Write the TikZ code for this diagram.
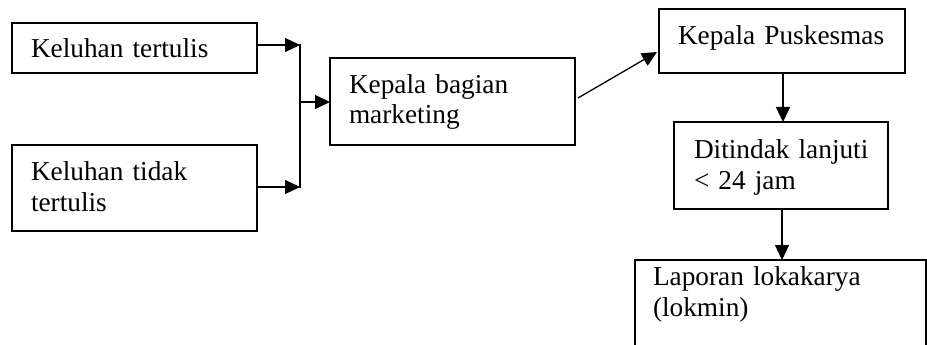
\documentclass[tikz,border=0pt]{standalone}
\usepackage{fontspec}
\setmainfont{Liberation Serif}
\usetikzlibrary{arrows.meta}

\tikzset{
  flowbox/.style={draw, line width=1.4pt, rectangle, anchor=north west,
    inner xsep=19pt, inner ysep=0pt, outer sep=0pt, align=left,
    font=\fontsize{27.3}{31}\selectfont},
  flowarrow/.style={line width=1.3pt, -{Triangle[length=15pt,width=14pt]}},
  flowline/.style={line width=1.3pt}
}

\begin{document}
\begin{tikzpicture}[x=1pt,y=-1pt]
  \useasboundingbox (0,0) rectangle (927,345);
  \clip (0,0) rectangle (927,345);

  % complaint sources
  \node[flowbox, text width=207pt, text height=35pt, text depth=15pt]
    (tertulis) at (12,23) {\mbox{Keluhan tertulis}};
  \node[flowbox, text width=207pt, text height=35pt, text depth=51pt]
    (tidak) at (12,145) {\mbox{Keluhan tidak}\\\mbox{tertulis}};

  % handling chain
  \node[flowbox, text width=207pt, text height=35pt, text depth=52pt]
    (marketing) at (330,58) {\mbox{Kepala bagian}\\\mbox{marketing}};
  \node[flowbox, text width=208pt, text height=36pt, text depth=28pt]
    (kapus) at (659,9) {\mbox{Kepala Puskesmas}};
  \node[flowbox, inner xsep=20pt, text width=174pt, text height=36pt, text depth=51pt]
    (tindak) at (674,122) {\mbox{Ditindak lanjuti}\\\mbox{< 24 jam}};
  \node[flowbox, inner xsep=18pt, text width=255pt, text height=25pt, text depth=95pt]
    (laporan) at (635,260) {\mbox{Laporan lokakarya}\\\mbox{(lokmin)}};

  % merge bracket
  \coordinate (jtop) at (300,45);
  \coordinate (jbot) at (300,187);
  \coordinate (jmid) at (300,102);

  \draw[flowarrow] (tertulis.east |- jtop) -- (jtop);
  \draw[flowarrow] (tidak.east |- jbot) -- (jbot);
  \draw[flowline, line cap=rect] (jtop) -- (jbot);
  \draw[flowarrow] (jmid) -- (jmid -| marketing.west);

  % onward flow
  \draw[flowarrow] ([xshift=3pt,yshift=3.5pt]marketing.east)
    -- ([xshift=-2pt,yshift=-11pt]kapus.west);
  \draw[flowarrow] ([xshift=1pt]kapus.south) -- ([xshift=1pt]kapus.south |- tindak.north);
  \draw[flowarrow] ([xshift=1pt]tindak.south) -- ([xshift=1pt]tindak.south |- laporan.north);
\end{tikzpicture}
\end{document}
